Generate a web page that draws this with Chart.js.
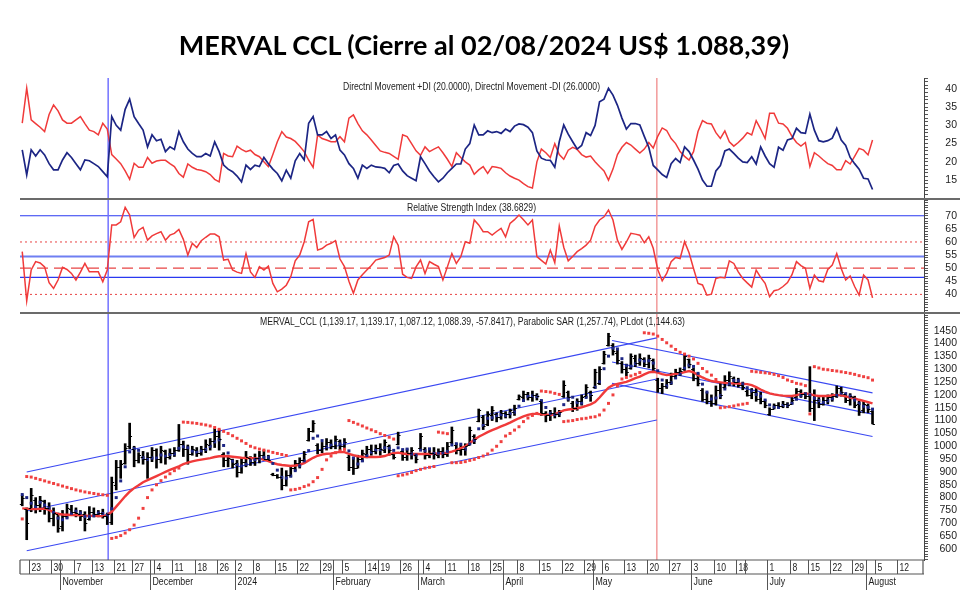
<!DOCTYPE html>
<html lang="es">
<head>
<meta charset="UTF-8">
<title>MERVAL CCL</title>
<script src="https://cdn.jsdelivr.net/npm/chart.js"></script>
<style>
  body { margin: 0; background: #fff; }
  .page { position: relative; width: 980px; height: 610px; overflow: hidden; }
  h1 {
    position: absolute; left: 0; top: 30px; width: 968px; margin: 0;
    text-align: center; font: bold 27px Lato, "Liberation Sans", sans-serif;
    line-height: 30px; color: #000; z-index: 2;
  }
  canvas { position: absolute; left: 0; top: 0; }
</style>
</head>
<body>
<div class="page">
  <h1>MERVAL CCL (Cierre al 02/08/2024 US$ 1.088,39)</h1>
  <canvas id="chart" width="980" height="610"></canvas>
</div>
<script>
// trading calendar (sessions only, no weekends / market holidays)
const FIRST_DAY = "2023-10-19";
const LAST_DAY = "2024-08-19";
const NO_SESSION = ["2023-11-06", "2023-11-20", "2023-12-08", "2023-12-25", "2024-01-01",
  "2024-02-12", "2024-02-13", "2024-03-28", "2024-03-29", "2024-04-01", "2024-04-02",
  "2024-05-01", "2024-06-17", "2024-06-20", "2024-06-21", "2024-07-09"];

// x axis labels
const DAY_TICKS = ["2023-10-23", "2023-10-30", "2023-11-07", "2023-11-13", "2023-11-21", "2023-11-27",
  "2023-12-04", "2023-12-11", "2023-12-18", "2023-12-26", "2024-01-02", "2024-01-08", "2024-01-15",
  "2024-01-22", "2024-01-29", "2024-02-05", "2024-02-14", "2024-02-19", "2024-02-26", "2024-03-04",
  "2024-03-11", "2024-03-18", "2024-03-25", "2024-04-03", "2024-04-08", "2024-04-15", "2024-04-22",
  "2024-04-29", "2024-05-06", "2024-05-13", "2024-05-20", "2024-05-27", "2024-06-03", "2024-06-10",
  "2024-06-18", "2024-06-24", "2024-07-01", "2024-07-08", "2024-07-15", "2024-07-22", "2024-07-29",
  "2024-08-05", "2024-08-12"];
const DAY_HIDDEN = ["2024-04-03", "2024-06-24"];
const MONTH_STARTS = ["2023-11-01", "2023-12-01", "2024-01-02", "2024-02-01", "2024-03-01",
  "2024-04-03", "2024-05-02", "2024-06-03", "2024-07-01", "2024-08-01"];
const MONTH_NAMES = ["November", "December", "2024", "February", "March", "April", "May", "June", "July", "August"];

// MERVAL CCL daily bars, one value per session from 2023-10-19 to 2024-08-02
const OPEN = [
  775, 755, 760, 790, 770, 785, 760, 720, 735, 690,
  730, 755, 745, 735, 735, 715, 745, 735, 740, 730,
  705, 850, 920, 935, 1000, 990, 945, 960, 950, 960,
  985, 950, 980, 960, 975, 985, 1010, 990, 970, 985,
  975, 990, 1005, 1020, 1040, 970, 945, 950, 935, 900,
  940, 955, 940, 955, 965, 950, 893, 888, 880, 850,
  890, 915, 935, 945, 1025, 1060, 1005, 985, 1000, 1015,
  1000, 1020, 1000, 960, 920, 915, 950, 970, 990, 980,
  995, 985, 1000, 970, 1010, 980, 960, 975, 965, 995,
  990, 965, 975, 965, 980, 970, 1015, 1005, 985, 990,
  1005, 1040, 1100, 1115, 1085, 1120, 1125, 1115, 1130, 1125,
  1135, 1185, 1190, 1205, 1190, 1200, 1175, 1130, 1120, 1130,
  1125, 1195, 1210, 1170, 1150, 1175, 1195, 1210, 1230, 1245,
  1325, 1395, 1395, 1365, 1325, 1300, 1305, 1345, 1325, 1340,
  1320, 1335, 1260, 1225, 1235, 1250, 1275, 1290, 1300, 1340,
  1300, 1265, 1220, 1185, 1175, 1170, 1220, 1230, 1260, 1265,
  1250, 1240, 1215, 1200, 1210, 1185, 1175, 1125, 1145, 1160,
  1155, 1165, 1165, 1190, 1215, 1205, 1195, 1150, 1180, 1165,
  1180, 1190, 1195, 1225, 1205, 1180, 1190, 1165, 1140, 1160,
  1139.17];
const HIGH = [
  810, 760, 836, 800, 805, 790, 780, 760, 740, 750,
  775, 770, 760, 750, 745, 765, 760, 750, 755, 740,
  880, 945, 945, 1010, 1090, 1000, 975, 980, 975, 995,
  990, 1000, 985, 990, 995, 1085, 1020, 1005, 1000, 995,
  1000, 1025, 1030, 1070, 1065, 975, 965, 950, 945, 955,
  980, 960, 970, 980, 985, 965, 895, 890, 915, 905,
  925, 945, 955, 980, 1070, 1100, 1010, 1015, 1030, 1025,
  1040, 1025, 1030, 965, 955, 965, 985, 1000, 1005, 1005,
  1010, 1025, 1005, 975, 1055, 985, 990, 995, 970, 1050,
  995, 990, 995, 990, 995, 1015, 1075, 1010, 1005, 1010,
  1075, 1045, 1145, 1120, 1135, 1155, 1130, 1140, 1135, 1145,
  1160, 1200, 1215, 1210, 1215, 1205, 1180, 1135, 1140, 1150,
  1140, 1255, 1215, 1175, 1185, 1200, 1240, 1215, 1300, 1310,
  1370, 1440, 1400, 1375, 1330, 1320, 1360, 1355, 1360, 1345,
  1355, 1340, 1265, 1245, 1260, 1285, 1300, 1305, 1360, 1340,
  1305, 1285, 1225, 1210, 1200, 1235, 1245, 1275, 1290, 1270,
  1265, 1250, 1220, 1225, 1225, 1210, 1180, 1150, 1165, 1170,
  1175, 1170, 1190, 1225, 1220, 1210, 1310, 1220, 1190, 1195,
  1200, 1205, 1235, 1230, 1205, 1205, 1195, 1175, 1175, 1165,
  1139.17];
const LOW = [
  768, 636, 745, 740, 745, 735, 705, 690, 665, 670,
  720, 730, 725, 710, 670, 712, 725, 725, 720, 695,
  695, 830, 875, 930, 990, 920, 935, 930, 875, 940,
  915, 935, 930, 950, 960, 980, 960, 930, 965, 960,
  965, 975, 985, 995, 985, 920, 920, 915, 880, 895,
  920, 925, 925, 935, 945, 940, 885, 875, 830, 845,
  880, 905, 915, 935, 1020, 1055, 970, 975, 985, 990,
  990, 985, 995, 905, 890, 915, 940, 955, 965, 970,
  965, 975, 965, 950, 1005, 945, 945, 950, 935, 990,
  950, 955, 950, 955, 955, 960, 1010, 970, 965, 965,
  1005, 1010, 1095, 1065, 1080, 1100, 1095, 1105, 1110, 1110,
  1120, 1180, 1175, 1180, 1175, 1180, 1120, 1095, 1100, 1110,
  1115, 1190, 1175, 1135, 1140, 1160, 1190, 1175, 1225, 1240,
  1320, 1390, 1355, 1320, 1285, 1275, 1300, 1310, 1315, 1310,
  1305, 1295, 1210, 1205, 1225, 1240, 1265, 1275, 1295, 1305,
  1255, 1235, 1175, 1165, 1155, 1160, 1185, 1225, 1235, 1235,
  1230, 1220, 1195, 1185, 1175, 1165, 1150, 1120, 1145, 1150,
  1150, 1150, 1165, 1190, 1190, 1185, 1135, 1100, 1150, 1160,
  1165, 1175, 1190, 1195, 1170, 1160, 1150, 1120, 1130, 1130,
  1087.12];
const CLOSE = [
  800, 700, 810, 770, 790, 760, 720, 740, 680, 730,
  760, 745, 740, 730, 700, 745, 735, 740, 730, 735,
  860, 920, 930, 995, 1040, 945, 965, 950, 960, 985,
  950, 985, 960, 975, 985, 1010, 990, 970, 990, 975,
  990, 1010, 1020, 1040, 1030, 945, 955, 930, 900, 940,
  960, 940, 955, 965, 950, 945, 888, 880, 850, 890,
  915, 935, 945, 970, 1060, 1090, 985, 1000, 1015, 1000,
  1030, 1000, 1015, 920, 915, 950, 975, 990, 980, 995,
  990, 1015, 985, 960, 1045, 960, 975, 985, 950, 1040,
  965, 975, 970, 980, 970, 1000, 1065, 985, 990, 1000,
  1065, 1030, 1140, 1080, 1125, 1140, 1115, 1130, 1125, 1140,
  1150, 1195, 1205, 1190, 1200, 1195, 1130, 1120, 1130, 1125,
  1135, 1240, 1190, 1150, 1175, 1190, 1230, 1200, 1290, 1300,
  1360, 1430, 1370, 1335, 1300, 1290, 1350, 1325, 1345, 1320,
  1345, 1305, 1225, 1235, 1250, 1275, 1290, 1295, 1350, 1320,
  1265, 1245, 1185, 1175, 1170, 1220, 1200, 1260, 1275, 1250,
  1240, 1230, 1200, 1210, 1185, 1175, 1160, 1145, 1160, 1155,
  1165, 1160, 1180, 1215, 1205, 1195, 1150, 1180, 1165, 1180,
  1190, 1195, 1225, 1210, 1180, 1195, 1160, 1135, 1165, 1145,
  1088.39];

// overlays on the price panel
const SAR = [
  717, 882, 880, 875, 870, 865, 860, 855, 850, 845,
  840, 835, 830, 826, 822, 819, 816, 813, 811, 809,
  641, 645, 652, 662, 675, 693, 720, 758, 800, 830,
  850, 866, 880, 893, 905, 915, 1094, 1093, 1091, 1089,
  1086, 1083, 1079, 1073, 1066, 1058, 1050, 1041, 1031, 1021,
  1011, 1000, 994, 989, 985, 981, 976, 972, 968, 964,
  830, 832, 836, 843, 849, 862, 878, 910, 947, 962,
  975, 982, 988, 1100, 1093, 1086, 1079, 1071, 1064, 1057,
  1049, 1042, 1035, 1028, 885, 888, 892, 898, 905, 910,
  915, 918, 921, 1055, 1052, 1049, 936, 936, 937, 940,
  945, 949, 956, 962, 970, 985, 1000, 1018, 1040, 1050,
  1063, 1076, 1096, 1110, 1120, 1128, 1215, 1213, 1211, 1206,
  1202, 1096, 1098, 1100, 1104, 1107, 1109, 1113, 1115, 1122,
  1141, 1167, 1200, 1235, 1262, 1268, 1274, 1280, 1287, 1442,
  1440, 1437, 1429, 1416, 1403, 1390, 1377, 1366, 1359, 1351,
  1340, 1323, 1303, 1290, 1277, 1260, 1150, 1152, 1154, 1157,
  1161, 1164, 1167, 1292, 1290, 1288, 1286, 1284, 1280, 1275,
  1268, 1258, 1252, 1245, 1242, 1236, 1126, 1310, 1305, 1300,
  1298, 1295, 1293, 1290, 1287, 1284, 1280, 1275, 1271, 1267,
  1257.74];
const PLDOT = [
  812, 800, 778, 765, 782, 771, 759, 742, 720, 714,
  721, 739, 747, 740, 726, 726, 729, 740, 738, 732,
  757, 800, 865, 920, 978, 991, 984, 955, 949, 954,
  954, 966, 961, 968, 970, 992, 998, 994, 981, 977,
  982, 988, 1000, 1017, 1025, 1003, 974, 942, 929, 923,
  930, 942, 948, 951, 957, 957, 933, 907, 879, 876,
  884, 905, 924, 943, 983, 1031, 1040, 1022, 998, 1004,
  1012, 1009, 1012, 982, 954, 931, 943, 964, 977, 985,
  987, 994, 993, 984, 994, 987, 989, 970, 966, 985,
  983, 990, 972, 973, 973, 980, 1005, 1010, 1008, 989,
  1009, 1023, 1068, 1081, 1109, 1111, 1119, 1123, 1120, 1127,
  1133, 1156, 1178, 1194, 1196, 1194, 1178, 1151, 1128, 1123,
  1127, 1162, 1184, 1191, 1171, 1168, 1190, 1200, 1230, 1251,
  1302, 1351, 1382, 1379, 1341, 1314, 1312, 1321, 1336, 1332,
  1333, 1324, 1294, 1258, 1235, 1247, 1266, 1281, 1304, 1316,
  1311, 1284, 1242, 1211, 1184, 1188, 1197, 1223, 1243, 1257,
  1255, 1243, 1228, 1215, 1202, 1195, 1180, 1161, 1153, 1151,
  1159, 1160, 1167, 1183, 1198, 1204, 1200, 1187, 1178, 1171,
  1177, 1185, 1198, 1207, 1205, 1195, 1180, 1166, 1156, 1152,
  1144.63];
const AVG_LINE = [
  758, 757, 755, 755, 756, 757, 752, 742, 736, 734,
  733, 732, 732, 731, 730, 729, 729, 728, 728, 733,
  745, 765, 785, 805, 823, 837, 848, 860, 868, 876,
  884, 892, 900, 908, 915, 922, 930, 936, 941, 945,
  948, 951, 954, 958, 961, 962, 961, 959, 957, 955,
  954, 954, 953, 952, 948, 942, 935, 930, 927, 925,
  923, 925, 928, 934, 945, 955, 963, 968, 971, 972,
  975, 978, 977, 970, 965, 961, 959, 958, 958, 958,
  959, 962, 968, 973, 975, 972, 970, 970, 970, 970,
  970, 970, 971, 972, 972, 975, 979, 985, 993, 1000,
  1012, 1025, 1037, 1046, 1055, 1063, 1070, 1077, 1084, 1092,
  1101, 1109, 1116, 1122, 1126, 1126, 1124, 1123, 1122, 1125,
  1132, 1140, 1143, 1145, 1148, 1152, 1157, 1163, 1172, 1190,
  1210, 1228, 1238, 1243, 1247, 1251, 1258, 1265, 1271, 1280,
  1288, 1290, 1287, 1281, 1277, 1279, 1282, 1284, 1289, 1293,
  1288, 1277, 1268, 1260, 1254, 1251, 1249, 1247, 1245, 1245,
  1244, 1243, 1242, 1238, 1230, 1221, 1213, 1206, 1202, 1199,
  1197, 1196, 1196, 1199, 1203, 1206, 1203, 1198, 1196, 1196,
  1196, 1198, 1200, 1198, 1194, 1190, 1186, 1181, 1177, 1172,
  1167];

// regression channels: [start, end] session positions and values
const CHAN_A_X = [1, 141.8];
const CHAN_A_UP = [900, 1422];
const CHAN_A_MID = [748, 1262];
const CHAN_A_LOW = [593, 1102];
const CHAN_B_X = [131.8, 190];
const CHAN_B_UP = [1412, 1208];
const CHAN_B_MID = [1328, 1125];
const CHAN_B_LOW = [1245, 1038];

// directional movement panel
const PLUS_DI = [
  23.3, 16.4, 23.3, 21.6, 23.3, 21.9, 19.5, 17.8, 17.8, 20.5,
  22.5, 21.2, 19.5, 17.8, 20.5, 20.3, 19.5, 18.7, 17.3, 15.9,
  32.4, 30.0, 28.7, 34.4, 37.2, 32.4, 30.5, 28.7, 24.1, 27.4,
  25.8, 26.2, 22.8, 24.1, 23.4, 28.3, 25.5, 23.5, 22.3, 21.4,
  21.4, 22.3, 21.6, 25.5, 22.8, 19.1, 18.0, 17.3, 16.1, 14.5,
  19.1, 17.9, 19.1, 18.7, 21.2, 19.5, 18.0, 16.8, 14.8, 17.7,
  15.5, 20.3, 22.3, 20.5, 30.6, 32.4, 27.4, 27.4, 28.3, 26.4,
  27.4, 23.2, 21.9, 19.5, 18.2, 15.5, 19.1, 18.2, 19.1, 18.6,
  18.5, 18.2, 17.0, 19.0, 19.4, 17.5, 16.2, 15.5, 14.8, 21.4,
  19.5, 17.5, 15.9, 14.5, 15.5, 17.0, 18.2, 19.4, 19.4, 23.5,
  25.0, 30.1, 27.4, 27.4, 28.5, 28.0, 28.3, 27.8, 29.0, 28.3,
  29.8, 30.4, 30.2, 29.5, 28.0, 23.0, 21.0, 20.5, 20.4, 18.5,
  25.5, 30.1, 27.6, 25.5, 23.5, 24.5, 28.0, 27.2, 30.0, 36.5,
  37.2, 40.2, 38.3, 35.5, 32.0, 29.0, 30.5, 30.5, 30.1, 27.0,
  24.0, 19.0, 17.8, 16.5, 15.7, 19.5, 20.9, 19.8, 24.1, 22.8,
  20.5, 18.0, 15.0, 13.3, 13.3, 17.5, 19.0, 23.0, 23.5, 22.3,
  21.0, 20.0, 19.8, 21.4, 19.4, 24.1, 21.6, 19.5, 18.5, 24.0,
  23.2, 26.0, 26.4, 29.2, 28.0, 27.8, 33.1, 28.7, 25.8, 25.5,
  25.8, 26.5, 29.2, 26.0, 24.5, 21.2, 19.5, 18.0, 15.5, 15.3,
  12.4];
const MINUS_DI = [
  30.6, 40.2, 31.5, 30.5, 29.5, 28.3, 33.0, 35.6, 34.0, 31.5,
  30.6, 30.6, 31.5, 32.4, 30.5, 28.7, 28.3, 27.4, 30.6, 29.0,
  22.0, 20.8, 19.5, 17.5, 15.2, 19.6, 18.5, 18.5, 21.2, 19.6,
  20.2, 20.4, 20.4, 19.5, 18.7, 16.8, 15.8, 19.4, 18.5, 17.9,
  17.7, 17.3, 16.5, 15.2, 14.5, 22.3, 21.6, 21.4, 24.3, 23.4,
  22.8, 23.2, 22.0, 21.4, 20.0, 18.7, 22.0, 25.5, 28.3, 26.8,
  26.4, 25.6, 24.3, 22.8, 20.5, 18.5, 27.4, 26.4, 26.0, 25.5,
  25.5, 26.9, 25.5, 32.0, 32.9, 30.5, 28.5, 27.4, 26.0, 24.5,
  23.0, 22.6, 22.3, 21.5, 20.7, 27.4, 26.9, 25.0, 23.0, 21.8,
  24.1, 22.8, 23.5, 24.1, 22.5, 20.7, 18.7, 22.5, 21.2, 20.0,
  19.1, 16.6, 17.8, 18.7, 16.8, 18.7, 18.5, 18.2, 17.0, 16.1,
  15.5, 15.0, 14.0, 13.2, 12.8, 20.0, 23.5, 22.5, 21.2, 25.0,
  22.0, 20.7, 23.2, 24.0, 23.4, 22.0, 21.3, 21.6, 20.0, 18.7,
  17.5, 15.0, 18.0, 22.0, 24.0, 25.3, 24.6, 23.5, 22.4, 23.5,
  25.3, 23.8, 27.0, 29.3, 28.6, 26.4, 25.0, 22.8, 21.5, 20.5,
  22.8, 28.3, 31.3, 30.6, 30.4, 28.0, 26.4, 28.5, 25.5, 24.3,
  25.3, 26.5, 28.0, 27.4, 31.3, 29.0, 26.4, 33.3, 33.3, 30.6,
  30.4, 29.2, 27.0, 25.3, 24.3, 25.3, 18.7, 22.5, 21.6, 20.5,
  19.5, 19.0, 17.8, 17.8, 20.3, 19.4, 21.5, 23.7, 23.2, 21.9,
  26.0];

// relative strength index panel
const RSI = [
  56.3, 37.5, 49.3, 52.5, 52.0, 50.5, 44.5, 42.3, 45.5, 50.3,
  49.5, 48.0, 45.5, 48.5, 51.8, 48.6, 48.6, 48.6, 44.8, 49.3,
  66.5, 66.5, 67.7, 73.2, 70.3, 61.7, 64.5, 65.6, 60.7, 62.3,
  63.2, 63.9, 60.7, 62.6, 63.3, 64.8, 61.0, 55.0, 59.5, 57.9,
  60.5, 61.8, 63.0, 63.0, 62.0, 53.1, 53.4, 49.3, 48.5, 48.0,
  55.6, 48.6, 46.5, 50.6, 49.3, 50.8, 44.2, 41.0, 42.0, 43.5,
  46.7, 52.8, 55.0, 60.0, 67.7, 68.6, 56.9, 57.5, 58.8, 59.5,
  60.5, 53.5, 50.6, 45.0, 40.4, 45.5, 47.5, 49.3, 51.0, 53.1,
  53.6, 54.1, 55.0, 62.0, 58.8, 47.7, 46.5, 46.1, 50.5, 53.1,
  48.0, 52.5, 51.5, 50.6, 45.5, 50.5, 55.6, 51.8, 54.4, 60.1,
  59.5, 68.4, 66.5, 63.9, 63.9, 62.6, 64.0, 65.2, 62.0, 67.1,
  68.5, 70.3, 68.5, 66.5, 68.4, 54.4, 53.0, 51.6, 56.9, 52.1,
  66.1, 58.0, 52.8, 54.5, 56.3, 57.5, 58.8, 60.7, 66.0, 68.4,
  69.6, 72.2, 68.4, 60.7, 57.2, 60.0, 63.3, 63.0, 62.6, 59.7,
  62.0, 57.6, 49.5, 45.2, 48.0, 52.5, 54.1, 53.7, 60.1, 55.9,
  49.9, 44.2, 43.6, 39.7, 40.1, 46.1, 46.5, 46.3, 52.8, 51.8,
  48.6, 46.1, 44.4, 42.8, 49.3, 46.5, 44.2, 39.1, 41.4, 41.8,
  43.0, 44.5, 47.5, 52.5, 51.0, 50.0, 42.3, 47.4, 45.2, 44.8,
  49.5, 51.2, 55.6, 49.9, 45.5, 47.0, 43.0, 39.7, 47.4, 45.5,
  38.6829];
const RSI_LEVELS = [70, 60, 54.5, 50, 46.5, 40];

// vertical markers (session positions)
const MARKER_DAYS = [19.2, 141.8];

// styles
const NAVY = "#1c2584";
const RED = "#f03a3a";
const CHAN_BLUE = "#3a48f2";
const LEVEL_STYLE = [
  { c: "#2a38f0", w: 1.2, dash: [] },
  { c: "#e84444", w: 1, dash: [2, 3] },
  { c: "#6f7ff2", w: 2, dash: [] },
  { c: "#e84444", w: 1.2, dash: [11, 6] },
  { c: "#2a38f0", w: 1.2, dash: [] },
  { c: "#e84444", w: 1, dash: [2, 3] },
];
const MARKER_COLORS = ["#7272ff", "#f29a9a"];
const AXIS_FONT = '"Liberation Sans", Arial, sans-serif';

function buildDays() {
  const out = [];
  const end = Date.parse(LAST_DAY + "T00:00:00Z");
  for (let t = Date.parse(FIRST_DAY + "T00:00:00Z"); t <= end; t += 86400000) {
    const d = new Date(t);
    const wd = d.getUTCDay();
    const iso = d.toISOString().slice(0, 10);
    if (wd === 0 || wd === 6 || NO_SESSION.includes(iso)) continue;
    out.push(iso);
  }
  return out;
}
const days = buildDays();
const dayIndex = {};
days.forEach((d, i) => (dayIndex[d] = i));

const pts = (arr) => arr.map((v, i) => ({ x: i, y: v }));
const seg = (xs, ys) => xs.map((x, i) => ({ x: x, y: ys[i] }));

function rangeTicks(from, to, step) {
  const t = [];
  for (let v = from; v <= to + 1e-9; v += step) t.push({ value: v });
  return t;
}

// right-hand value axis; labels are right-aligned to the box edge (x = 957)
function yAxis(weight, min, max, tickStep, labelStep, labelMin, labelMax) {
  return {
    type: "linear",
    position: "right",
    stack: "panels",
    stackWeight: weight,
    min: min,
    max: max,
    afterBuildTicks: (scale) => {
      scale.ticks = rangeTicks(Math.ceil(min / tickStep) * tickStep, max, tickStep);
    },
    afterFit: (scale) => {
      scale.width = 33;
    },
    border: { display: true, color: "#444", width: 1 },
    grid: { drawOnChartArea: false, drawTicks: true, tickLength: 4, color: "#555" },
    ticks: {
      autoSkip: false,
      crossAlign: "far",
      padding: 2,
      color: "#222",
      font: { family: AXIS_FONT, size: 10.5 },
      callback: (v) => (Math.abs(v % labelStep) < 1e-6 && v >= labelMin && v <= labelMax ? String(v) : ""),
    },
  };
}

function lineSet(data, axis, color, width) {
  return {
    type: "line",
    data: data,
    yAxisID: axis,
    borderColor: color,
    borderWidth: width,
    pointRadius: 0,
    tension: 0,
    fill: false,
  };
}

function dotSet(data, color) {
  return {
    type: "line",
    data: data,
    yAxisID: "yPx",
    showLine: false,
    pointStyle: "rect",
    pointRadius: 2.1,
    pointBorderWidth: 0,
    pointBackgroundColor: color,
    borderColor: color,
  };
}

function narrowText(ctx, text, x, y, k) {
  const w = ctx.measureText(text).width;
  ctx.fillText(text, x, y, w * k);
}

const decor = {
  id: "decor",
  beforeDatasetsDraw(chart) {
    const { ctx, chartArea: a, scales } = chart;
    ctx.save();
    RSI_LEVELS.forEach((lv, k) => {
      const st = LEVEL_STYLE[k];
      const y = scales.yRsi.getPixelForValue(lv);
      ctx.beginPath();
      ctx.setLineDash(st.dash);
      ctx.lineWidth = st.w;
      ctx.strokeStyle = st.c;
      ctx.moveTo(a.left, y);
      ctx.lineTo(a.right, y);
      ctx.stroke();
    });
    ctx.setLineDash([]);
    MARKER_DAYS.forEach((m, k) => {
      const x = scales.x.getPixelForValue(m);
      ctx.beginPath();
      ctx.lineWidth = 1.5;
      ctx.strokeStyle = MARKER_COLORS[k];
      ctx.moveTo(x, a.top);
      ctx.lineTo(x, a.bottom);
      ctx.stroke();
    });
    ctx.restore();
  },
  afterDatasetsDraw(chart) {
    // open (left) and close (right) ticks of each bar
    const { ctx, scales } = chart;
    ctx.save();
    ctx.strokeStyle = "#000";
    ctx.lineWidth = 1;
    OPEN.forEach((o, i) => {
      const x = scales.x.getPixelForValue(i);
      const yo = Math.round(scales.yPx.getPixelForValue(o)) + 0.5;
      const yc = Math.round(scales.yPx.getPixelForValue(CLOSE[i])) + 0.5;
      ctx.beginPath();
      ctx.moveTo(x - 2.4, yo);
      ctx.lineTo(x, yo);
      ctx.moveTo(x, yc);
      ctx.lineTo(x + 2.4, yc);
      ctx.stroke();
    });
    ctx.restore();
  },
  afterDraw(chart) {
    const { ctx, chartArea: a, scales } = chart;
    const x = scales.x;
    ctx.save();

    // panel separators
    ctx.strokeStyle = "#6b6b6b";
    ctx.lineWidth = 2;
    [scales.yRsi.top, scales.yPx.top].forEach((y) => {
      ctx.beginPath();
      ctx.moveTo(a.left, y);
      ctx.lineTo(960, y);
      ctx.stroke();
    });

    // date axis frame
    const top = a.bottom;
    const mid = top + 14;
    const bot = top + 30;
    ctx.strokeStyle = "#555";
    ctx.lineWidth = 1.2;
    ctx.beginPath();
    ctx.moveTo(a.left, top);
    ctx.lineTo(a.right, top);
    ctx.moveTo(a.left, mid);
    ctx.lineTo(a.right, mid);
    ctx.moveTo(a.left, top);
    ctx.lineTo(a.left, mid);
    ctx.moveTo(a.right - 1, top);
    ctx.lineTo(a.right - 1, mid);
    ctx.stroke();

    ctx.fillStyle = "#1a1a1a";
    ctx.textBaseline = "middle";
    ctx.textAlign = "left";
    ctx.font = "11px " + AXIS_FONT;
    ctx.lineWidth = 1;
    DAY_TICKS.forEach((d) => {
      const px = Math.round(x.getPixelForValue(dayIndex[d] - 0.5)) + 0.5;
      ctx.beginPath();
      ctx.moveTo(px, top);
      ctx.lineTo(px, mid);
      ctx.stroke();
      if (!DAY_HIDDEN.includes(d)) narrowText(ctx, String(Number(d.slice(8))), px + 2, top + 7.5, 0.78);
    });
    MONTH_STARTS.forEach((d, k) => {
      const px = Math.round(x.getPixelForValue(dayIndex[d] - 0.5)) + 0.5;
      ctx.beginPath();
      ctx.moveTo(px, top);
      ctx.lineTo(px, bot);
      ctx.stroke();
      narrowText(ctx, MONTH_NAMES[k], px + 2, mid + 8, 0.8);
    });

    // panel captions
    ctx.fillStyle = "#222";
    ctx.font = "10px " + AXIS_FONT;
    ctx.textAlign = "center";
    ctx.fillText("Directnl Movement +DI (20.0000), Directnl Movement -DI (26.0000)", 471.5, a.top + 9.5, 257);
    ctx.fillText("Relative Strength Index (38.6829)", 471.5, scales.yRsi.top + 9, 129);
    ctx.textAlign = "left";
    ctx.fillText("MERVAL_CCL (1,139.17, 1,139.17, 1,087.12, 1,088.39, -57.8417), Parabolic SAR (1,257.74), PLdot (1,144.63)",
      260, scales.yPx.top + 9, 425);
    ctx.restore();
  },
};

new Chart(document.getElementById("chart"), {
  type: "line",
  data: {
    datasets: [
      dotSet(pts(SAR), "#f04040"),
      dotSet(pts(PLDOT), NAVY),
      lineSet(pts(AVG_LINE), "yPx", RED, 2.4),
      {
        type: "bar",
        data: HIGH.map((h, i) => ({ x: i, y: [LOW[i], h] })),
        yAxisID: "yPx",
        backgroundColor: "#000",
        borderWidth: 0,
        barThickness: 2,
        grouped: false,
      },
      lineSet(seg(CHAN_A_X, CHAN_A_UP), "yPx", CHAN_BLUE, 1.1),
      lineSet(seg(CHAN_A_X, CHAN_A_MID), "yPx", CHAN_BLUE, 1.1),
      lineSet(seg(CHAN_A_X, CHAN_A_LOW), "yPx", CHAN_BLUE, 1.1),
      lineSet(seg(CHAN_B_X, CHAN_B_UP), "yPx", CHAN_BLUE, 1.1),
      lineSet(seg(CHAN_B_X, CHAN_B_MID), "yPx", CHAN_BLUE, 1.1),
      lineSet(seg(CHAN_B_X, CHAN_B_LOW), "yPx", CHAN_BLUE, 1.1),
      lineSet(pts(RSI), "yRsi", RED, 1.5),
      lineSet(pts(PLUS_DI), "yDmi", NAVY, 1.7),
      lineSet(pts(MINUS_DI), "yDmi", RED, 1.5),
    ],
  },
  options: {
    responsive: false,
    animation: false,
    events: [],
    layout: { padding: { left: 20, right: 23, top: 78, bottom: 50 } },
    plugins: { legend: { display: false }, tooltip: { enabled: false }, title: { display: false } },
    scales: {
      x: { type: "linear", min: -0.5, max: 201.5, display: false, offset: false },
      yDmi: yAxis(121, 9.8, 43, 1, 5, 15, 40),
      yRsi: yAxis(114, 32.9, 76.4, 1, 5, 40, 70),
      yPx: yAxis(247, 557, 1519, 10, 50, 600, 1450),
    },
  },
  plugins: [decor],
});
</script>
</body>
</html>
